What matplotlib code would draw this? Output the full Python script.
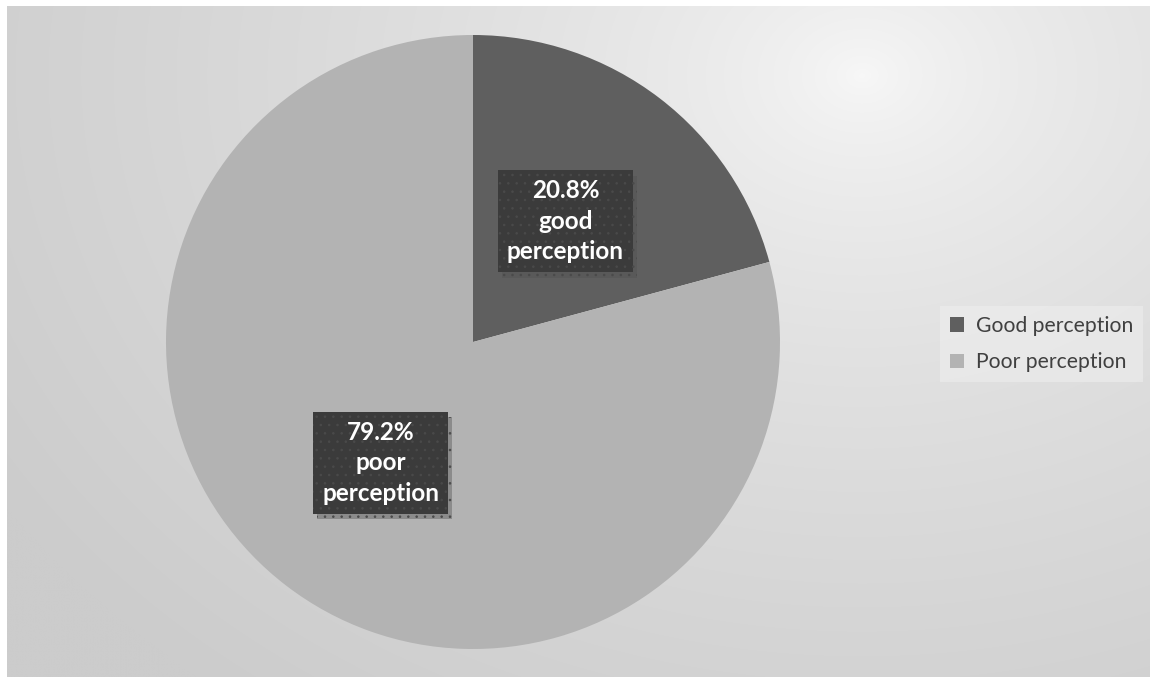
import matplotlib
matplotlib.use('Agg')
import matplotlib.pyplot as plt
import matplotlib.patheffects as pe
from matplotlib.patches import Patch
import numpy as np

# data
categories = ['Good perception', 'Poor perception']
shares = [20.8, 79.2]
slice_labels = ['20.8%\ngood\nperception', '79.2%\npoor\nperception']
colors = ['#5f5f5f', '#b3b3b3']

W, H = 1150, 679
plt.rcParams['hatch.linewidth'] = 0.6
fig = plt.figure(figsize=(W / 100, H / 100), dpi=100)
fig.patch.set_facecolor('white')

# background panel with radial gradient
bg = fig.add_axes([7 / W, 2 / H, (W - 7) / W, (H - 8) / H])
bg.set_axis_off()
yy, xx = np.mgrid[0:H, 0:W].astype(float)
d = np.hypot((xx - 860) * 0.78, yy - 70)
val = 248 - 44 * np.clip(d / 800, 0, 1) ** 0.65
img = np.dstack([val, val, val]) / 255.0
bg.imshow(img, aspect='auto', interpolation='bilinear')

# pie
r = 307
cx, cy = 473, 342
ax = fig.add_axes([(cx - r) / W, (H - cy - r) / H, 2 * r / W, 2 * r / H])
ax.set_axis_off()
wedges, texts = ax.pie(shares, colors=colors, startangle=90, counterclock=False,
                       labels=slice_labels, labeldistance=0.495,
                       wedgeprops=dict(linewidth=0),
                       textprops=dict(color='white', fontsize=17.5, fontweight='bold',
                                      family='Lato', ha='center', va='center',
                                      linespacing=1.4))
ax.set_xlim(-1, 1)
ax.set_ylim(-1, 1)
for t in texts:
    t.set_bbox(dict(boxstyle='square,pad=0.37', facecolor='#3b3b3b',
                    edgecolor='#4a4a4a', linewidth=0, hatch='..'))
    t.get_bbox_patch().set_path_effects([
        pe.SimplePatchShadow(offset=(3, -4), shadow_rgbFace='#505050', alpha=0.4),
        pe.Normal()])

handles = [Patch(facecolor=c, edgecolor='none') for c in colors]
leg = fig.legend(handles, categories, loc='center left',
                 bbox_to_anchor=(940 / W, 1 - 344 / H),
                 prop=dict(family='Lato', size=15.2), frameon=True,
                 handlelength=0.7, handleheight=0.7, handletextpad=0.55,
                 labelspacing=0.8, borderpad=0.45, borderaxespad=0, fancybox=False)
leg.get_frame().set_facecolor('#eeeeee')
leg.get_frame().set_alpha(0.6)
leg.get_frame().set_linewidth(0)
for t in leg.get_texts():
    t.set_color('#404040')

fig.savefig('out.png', dpi=100)
